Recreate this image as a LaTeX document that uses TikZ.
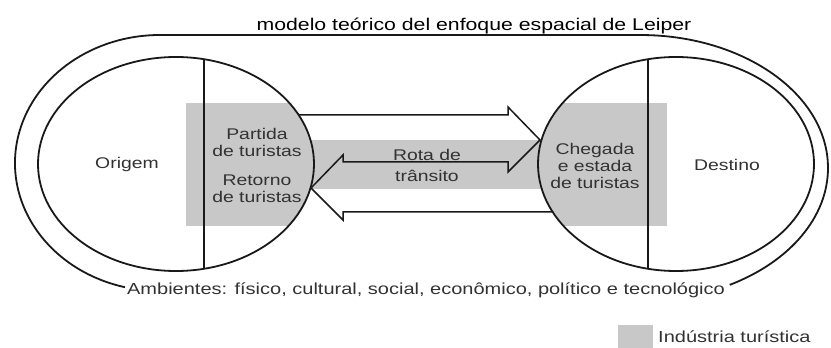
\documentclass[tikz,border=0pt]{standalone}
\usepackage{fontspec}
\setmainfont{Liberation Sans}[FakeStretch=1.25]
\usetikzlibrary{positioning,shapes.geometric,calc}
\definecolor{indgray}{RGB}{200,200,200}
\definecolor{inkgray}{RGB}{50,50,50}

\begin{document}
\begin{tikzpicture}[
    x=1pt, y=1pt,
    region/.style={draw=black!90, ellipse, line width=1.8pt, minimum width=276pt,
                   minimum height=214pt, inner sep=0pt, outer sep=0pt},
    lbl/.style={font=\fontsize{15.5}{17}\selectfont, text=inkgray, align=center, inner sep=0pt},
    wall/.style={line width=1.8pt, draw=black!90},
    flow/.style={line width=1.5pt, draw=black!90, line join=miter},
]
    \useasboundingbox (0,0) rectangle (831,348);

    % Tourism industry shading
    \begin{scope}
        \clip (176,184) ellipse [x radius=138, y radius=107];
        \fill[indgray] (186,122) rectangle (667,245);
    \end{scope}
    \begin{scope}
        \clip (676,184) ellipse [x radius=138, y radius=107];
        \fill[indgray] (186,122) rectangle (667,245);
    \end{scope}
    \fill[indgray] (186,159) rectangle (667,208);

    % Regions
    \node[region] (orig) at (176,184) {};
    \node[region] (dest) at (676,184) {};
    \draw[wall] (orig.75) -- (orig.-75);
    \draw[wall] (dest.105) -- (dest.-105);

    % Environment ring
    \coordinate (envL) at ($(160,185)+(256:145 and 128)$);
    \draw[wall] (envL) arc[start angle=256, end angle=90, x radius=145, y radius=128]
        -- (640,313) arc[start angle=90, end angle=-61.5, x radius=188, y radius=133];

    % Transit route arrows
    \coordinate (goS)  at (299,233);
    \coordinate (goT)  at (540,208);
    \coordinate (backS) at (553,136);
    \coordinate (backT) at (311,160);
    \draw[flow] (goS) -- (508,233) -- (508,241) -- (goT) -- (508,176) -- (508,186)
        -- (343,186) -- (343,193) -- (backT) -- (343,128) -- (343,136) -- (backS);

    % Labels
    \node[lbl, anchor=base] (origin) at (127,179) {Origem};
    \node[lbl] (depart) at (257,205.7) {Partida\\de turistas};
    \node[lbl] (return) at (257,159.7) {Retorno\\de turistas};
    \node[lbl, font=\fontsize{15.5}{21}\selectfont] (route) at (427,182.7) {Rota de\\trânsito};
    \node[lbl] (arrive) at (595,182) {Chegada\\e estada\\de turistas};
    \node[lbl, anchor=base] (destin) at (727,177) {Destino};
    \node[lbl, anchor=base, font=\fontsize{16}{18}\selectfont] (envir) at (426,53)
        {Ambientes: físico, cultural, social, econômico, político e tecnológico};
    \node[anchor=base, inner sep=0pt, font=\fontsize{17}{19}\selectfont] (title) at (474,317)
        {modelo teórico del enfoque espacial de Leiper};

    % Legend
    \fill[indgray] (618,0) rectangle (653,23);
    \node[lbl, anchor=base west, font=\fontsize{16}{18}\selectfont] (legend) at (658,5)
        {Indústria turística};
\end{tikzpicture}
\end{document}
